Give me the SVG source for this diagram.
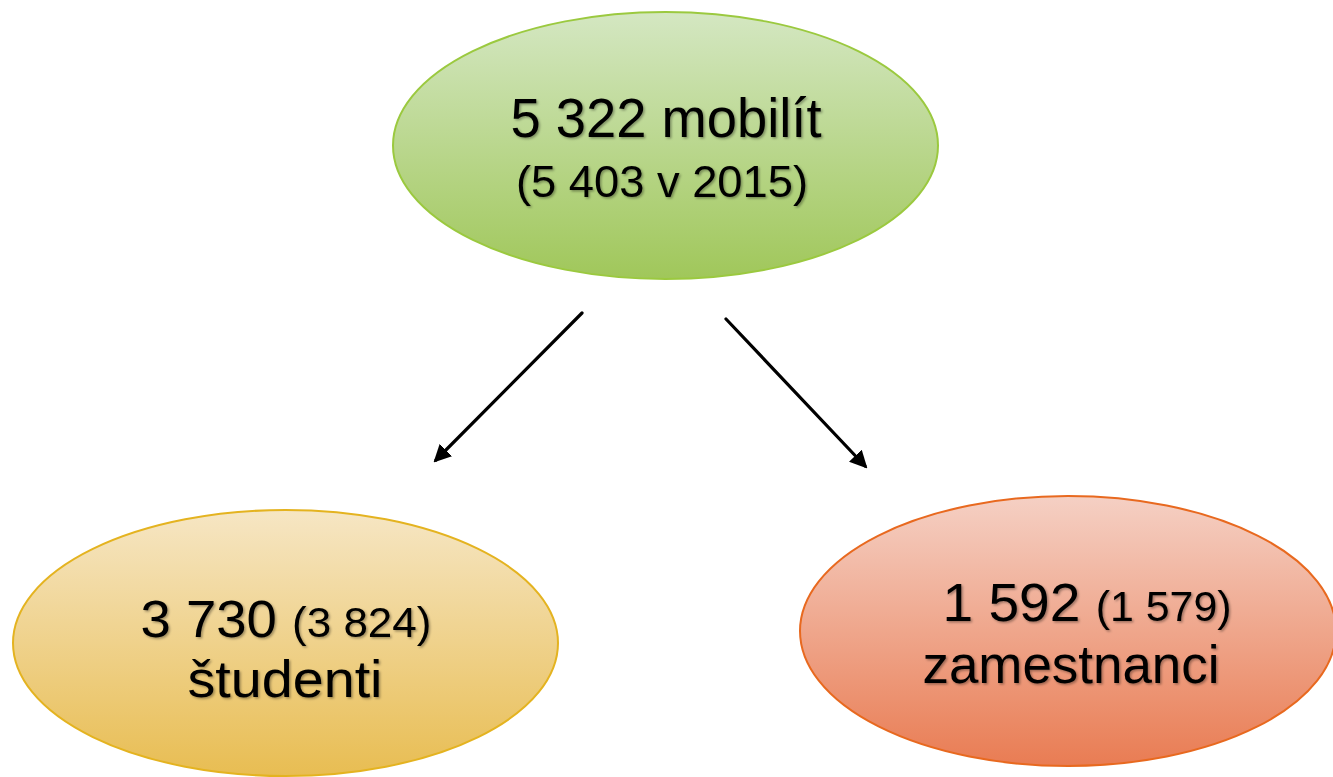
<svg xmlns="http://www.w3.org/2000/svg" width="1333" height="777" viewBox="0 0 1333 777">
<style>
.lbl{font-family:"Liberation Sans","Open Sans",sans-serif;fill:#000;filter:url(#ts)}
.conn{stroke:#000;stroke-width:3.2;stroke-linecap:round;fill:none;marker-end:url(#ah)}
</style>
<defs>
<linearGradient id="gG" x1="0" y1="0" x2="0" y2="1"><stop offset="0" stop-color="#d4e7c2"/><stop offset="1" stop-color="#a0c75a"/></linearGradient>
<linearGradient id="gY" x1="0" y1="0" x2="0" y2="1"><stop offset="0" stop-color="#f6e6c4"/><stop offset="1" stop-color="#e8bd52"/></linearGradient>
<linearGradient id="gR" x1="0" y1="0" x2="0" y2="1"><stop offset="0" stop-color="#f5d0c4"/><stop offset="1" stop-color="#e97c53"/></linearGradient>
<filter id="ts" x="-10%" y="-20%" width="120%" height="150%"><feDropShadow dx="1.5" dy="1.5" stdDeviation="1" flood-color="#000" flood-opacity="0.35"/></filter>
<marker id="ah" viewBox="0 0 10 10" refX="8" refY="5" markerWidth="5.5" markerHeight="5.5" orient="auto" markerUnits="strokeWidth"><path d="M0,0 L10,5 L0,10 z" fill="#000"/></marker>
</defs>
<rect width="1333" height="777" fill="#fff"/>
<g id="connectors">
<line class="conn" x1="582" y1="313" x2="436" y2="460"/>
<line class="conn" x1="726" y1="319" x2="865" y2="466"/>
</g>
<g id="node-total">
<ellipse cx="665.5" cy="145.5" rx="272.5" ry="133.5" fill="url(#gG)" stroke="#9bc93f" stroke-width="2"/>
<text class="lbl" x="666" y="137" font-size="56" text-anchor="middle" textLength="311" lengthAdjust="spacingAndGlyphs">5 322 mobilít</text>
<text class="lbl" x="662" y="197" font-size="44" text-anchor="middle" textLength="292" lengthAdjust="spacingAndGlyphs">(5 403 v 2015)</text>
</g>
<g id="node-students">
<ellipse cx="285.5" cy="643" rx="272.5" ry="133" fill="url(#gY)" stroke="#e4b320" stroke-width="2"/>
<text class="lbl" x="286" y="637" font-size="52" text-anchor="middle" textLength="291" lengthAdjust="spacingAndGlyphs">3 730 <tspan font-size="42">(3 824)</tspan></text>
<text class="lbl" x="285" y="697" font-size="52" text-anchor="middle" textLength="195" lengthAdjust="spacingAndGlyphs">študenti</text>
</g>
<g id="node-staff">
<ellipse cx="1068" cy="631" rx="268" ry="135" fill="url(#gR)" stroke="#e8691f" stroke-width="2"/>
<text class="lbl" x="1087" y="621" font-size="54" text-anchor="middle" textLength="289" lengthAdjust="spacingAndGlyphs">1 592 <tspan font-size="42">(1 579)</tspan></text>
<text class="lbl" x="1071" y="683" font-size="54" text-anchor="middle" textLength="297" lengthAdjust="spacingAndGlyphs">zamestnanci</text>
</g>
</svg>
